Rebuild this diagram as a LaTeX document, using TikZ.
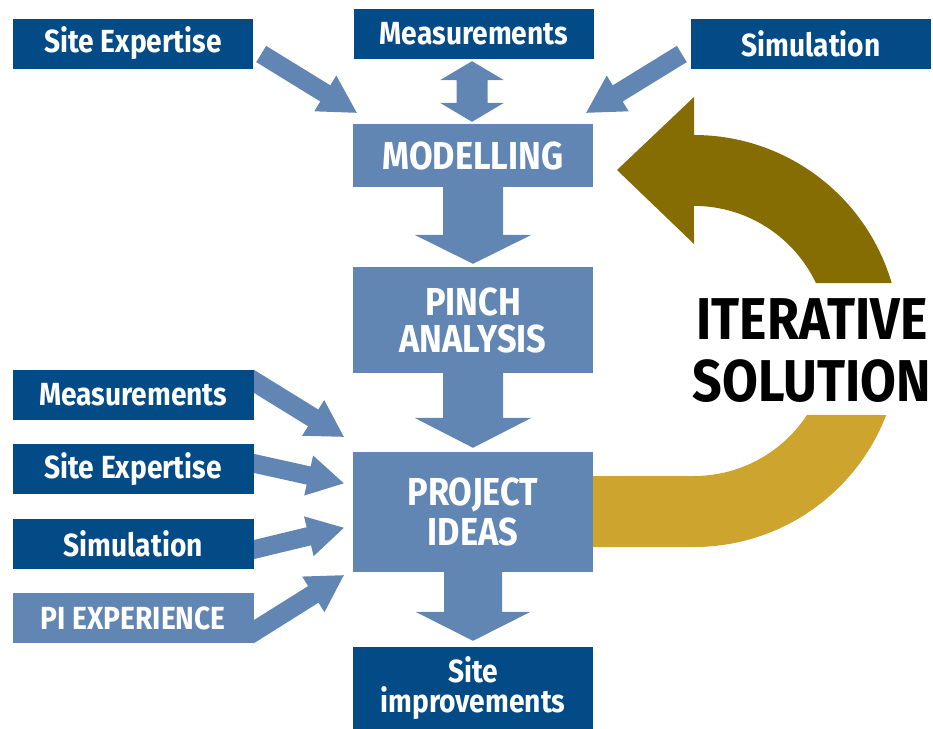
\documentclass[tikz,border=0pt]{standalone}
\usepackage{fontspec}
\newfontfamily\ff{Fira Sans}[FakeStretch=0.88]
\usetikzlibrary{calc}
\definecolor{dblue}{HTML}{034B86}
\definecolor{lblue}{HTML}{6286B4}
\definecolor{gdark}{HTML}{866D03}
\definecolor{glight}{HTML}{CCA42E}
\pgfdeclarelayer{bg}\pgfsetlayers{bg,main}
% block arrow: start, tip, shaft half width, head half width, head length
\newcommand\blkarr[5]{%
  \path (#1) coordinate (bs) (#2) coordinate (bt);
  \path ($(bt)!#5!(bs)$) coordinate (bb);
  \fill[lblue] ($(bs)!#3!90:(bt)$) -- ($(bb)!#3!-90:(bs)$) -- ($(bb)!#4!-90:(bs)$) -- (bt)
    -- ($(bb)!#4!90:(bs)$) -- ($(bb)!#3!90:(bs)$) -- ($(bs)!#3!-90:(bt)$) -- cycle;}
% double block arrow: tip a, tip b, shaft half width, head half width, head length
\newcommand\dblarr[5]{%
  \path (#1) coordinate (da) (#2) coordinate (db);
  \path ($(da)!#5!(db)$) coordinate (ba) ($(db)!#5!(da)$) coordinate (bb);
  \fill[lblue] (da) -- ($(ba)!#4!90:(db)$) -- ($(ba)!#3!90:(db)$) -- ($(bb)!#3!-90:(da)$)
    -- ($(bb)!#4!-90:(da)$) -- (db) -- ($(bb)!#4!90:(da)$) -- ($(bb)!#3!90:(da)$)
    -- ($(ba)!#3!-90:(db)$) -- ($(ba)!#4!-90:(db)$) -- cycle;}
\tikzset{
  lbl/.style={font=\ff\bfseries\fontsize{32}{33}\selectfont, text=white, inner sep=0pt},
  dbox/.style={lbl, fill=dblue, minimum width=240pt, minimum height=50pt},
  lbox/.style={lbl, fill=lblue, minimum width=240pt, minimum height=50pt},
  mainbox/.style={fill=lblue, text=white, inner sep=0pt, minimum width=240pt,
    font=\ff\bfseries\fontsize{39}{40}\selectfont, align=center},
}
\begin{document}
\begin{tikzpicture}[x=1pt,y=-1pt]
\useasboundingbox (0,0) rectangle (933,728);
% top row
\node[dbox] (se1) at (133,43.5) {Site Expertise};
\node[dbox] (me1) at (474,34) {Measurements};
\node[dbox] (si1) at (811,43.5) {Simulation};
% main column
\node[mainbox, minimum height=63pt] (mod) at (473,155.5) {MODELLING};
\node[mainbox, minimum height=106pt, font=\ff\bfseries\fontsize{39}{37}\selectfont] (pin) at (473,320) {PINCH\\ANALYSIS};
\node[mainbox, minimum height=120pt, font=\ff\bfseries\fontsize{39}{40}\selectfont] (pro) at (473,512) {PROJECT\\IDEAS};
\node[dbox, minimum height=82pt, align=center, font=\ff\bfseries\fontsize{32}{30}\selectfont] (imp) at (473,688) {Site\\improvements};
% left column
\node[dbox, minimum width=240.5pt] (me2) at (133.25,395) {Measurements};
\node[dbox, minimum width=240.5pt] (se2) at (133.25,469) {Site Expertise};
\node[dbox, minimum width=240.5pt] (si2) at (133.25,544) {Simulation};
\node[lbox, minimum width=240.5pt] (pie) at (133.25,618) {PI EXPERIENCE};
% iterative label
\node[font=\ff\bfseries\fontsize{59}{62}\selectfont, align=center, text=black, inner sep=0pt] (it) at (812,351) {ITERATIVE\\SOLUTION};
\begin{pgfonlayer}{bg}
  % top arrows
  \blkarr{$(se1.east)+(8,10.5)$}{$(mod.north west)+(4,-11)$}{9.5pt}{21pt}{37pt}
  \blkarr{$(si1.west)+(-9,10.5)$}{$(mod.north east)+(-7,-11)$}{9.5pt}{21pt}{37pt}
  \dblarr{$(me1.south)+(-2,2)$}{$(mod.north)+(-1,-2)$}{15.5pt}{32pt}{19pt}
  % main flow
  \blkarr{mod.south}{$(pin.north)+(0,-3)$}{30pt}{58.5pt}{29pt}
  \blkarr{pin.south}{$(pro.north)+(0,-4)$}{30pt}{58.5pt}{30pt}
  \blkarr{pro.south}{$(imp.north)+(0,-6)$}{29pt}{57.5pt}{29pt}
  % left arrows
  \begin{scope}
    \clip (253.5,300) rectangle (400,700);
    \blkarr{$(me2.east)+(-22,-27.4)$}{$(pro.north west)+(-9,-15)$}{9.8pt}{21pt}{36pt}
    \blkarr{$(se2.east)+(-22,-10.5)$}{$(pro.north west)+(-9,31.5)$}{9.3pt}{20.5pt}{36pt}
    \blkarr{$(si2.east)+(-22,10.9)$}{$(pro.north west)+(-9,76)$}{9.3pt}{20.5pt}{36pt}
    \blkarr{$(pie.east)+(-22,27.6)$}{$(pro.south west)+(-9,3)$}{9.8pt}{21pt}{36pt}
  \end{scope}
  % iterative loop arrow
  \fill[glight] (585,476) -- (694,476) arc[start angle=90, end angle=33.2, radius=135]
    -- (886.2,415) arc[start angle=21.05, end angle=90, radius=206] -- (585,547) -- cycle;
  \fill[gdark] (694,97) -- (694,135) arc[start angle=-90, end angle=-16.35, radius=206]
    -- (815.9,283) arc[start angle=-25.4, end angle=-90, radius=135]
    -- (694,244) -- (617,170) -- cycle;
\end{pgfonlayer}
\end{tikzpicture}
\end{document}
